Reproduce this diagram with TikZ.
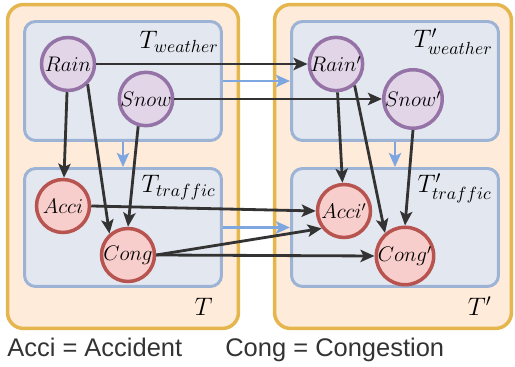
\documentclass[tikz,border=0pt]{standalone}
\usepackage{fontspec}
\newfontfamily\legendfont{Liberation Sans}
\usetikzlibrary{arrows.meta}
\definecolor{sliceline}{HTML}{E5B64E}
\definecolor{slicefill}{HTML}{FFEBDA}
\definecolor{groupline}{HTML}{9CB3D5}
\definecolor{groupfill}{HTML}{E3E8F0}
\definecolor{wline}{HTML}{9673A6}
\definecolor{wfill}{HTML}{E1D5E7}
\definecolor{tline}{HTML}{B85450}
\definecolor{tfill}{HTML}{F8CECC}
\definecolor{arrowgray}{HTML}{333333}
\definecolor{flowblue}{HTML}{7EA6E0}
\begin{document}
\begin{tikzpicture}[x=0.02cm,y=-0.02cm,
    slice/.style={rectangle,draw=sliceline,fill=slicefill,line width=2pt,rounded corners=0.32cm,inner sep=0pt},
    group/.style={rectangle,draw=groupline,fill=groupfill,line width=1.7pt,rounded corners=0.22cm,inner sep=0pt},
    weather/.style={circle,draw=wline,fill=wfill,line width=2pt,minimum size=1.06cm,inner sep=0pt,font=\fontsize{12}{14}\selectfont},
    traffic/.style={weather,draw=tline,fill=tfill},
    lbl/.style={inner sep=0pt,font=\fontsize{14}{16}\selectfont},
    legend/.style={inner sep=0pt,text=arrowgray,font=\legendfont\fontsize{14.5}{17}\selectfont},
    dep/.style={draw=arrowgray,line width=1.6pt,-{Stealth[length=8pt,width=7pt,inset=1.8pt]}},
    flow/.style={draw=flowblue,line width=1.6pt,-{Stealth[length=8pt,width=7pt,inset=1.8pt]}}]
    \useasboundingbox (0,0) rectangle (515,367);
    %% Time slices
    \node[slice,minimum width=4.62cm,minimum height=6.48cm] (sliceT) at (123,166.5) {};
    \node[slice,minimum width=4.74cm,minimum height=6.48cm] (sliceTN) at (393,166.5) {};
    %% Groups
    \node[group,minimum width=3.94cm,minimum height=2.38cm] (wthr) at (123,81) {};
    \node[group,minimum width=3.94cm,minimum height=2.36cm] (trfc) at (123,227.5) {};
    \node[group,minimum width=4.14cm,minimum height=2.38cm] (wthrN) at (395,81) {};
    \node[group,minimum width=4.14cm,minimum height=2.36cm] (trfcN) at (395,227.5) {};
    %% Labels
    \node[lbl,anchor=base east] (lwthr) at (219,49) {$T_{weather}$};
    \node[lbl,anchor=base east] (ltrfc) at (216,193) {$T_{traffic}$};
    \node[lbl,anchor=base east] (lwthrN) at (493,48) {$T'_{weather}$};
    \node[lbl,anchor=base east] (ltrfcN) at (492,193) {$T'_{traffic}$};
    \node[lbl,anchor=base east] (lsliceT) at (213,316) {$T$};
    \node[lbl,anchor=base east] (lsliceTN) at (492,316) {$T'$};
    %% Blue flows
    \draw[flow] (wthr.south) -- (trfc.north);
    \draw[flow] (wthrN.south) -- (trfcN.north);
    \draw[flow] (wthr.east) -- (wthrN.west);
    \draw[flow] (trfc.east) -- (trfcN.west);
    %% Variables
    \node[weather] (rain) at (68,64) {$Rain$};
    \node[weather] (snow) at (146,99) {$Snow$};
    \node[traffic] (acci) at (63,206) {$Acci$};
    \node[traffic] (cong) at (128,255) {$Cong$};
    \node[weather] (rainN) at (336,64) {$Rain'$};
    \node[weather] (snowN) at (413,99) {$Snow'$};
    \node[traffic] (acciN) at (344,211) {$Acci'$};
    \node[traffic] (congN) at (405,256) {$Cong'$};
    %% Dependencies
    \draw[dep] (rain) -- (acci);
    \draw[dep] (rain.-46) -- (cong.131);
    \draw[dep] (snow.-106) -- (cong.north);
    \draw[dep] (rain) -- (rainN);
    \draw[dep] (snow) -- (snowN);
    \draw[dep] (acci.east) -- (acciN.west);
    \draw[dep] (cong.east) -- (acciN.218);
    \draw[dep] (cong.east) -- (congN.west);
    \draw[dep] (rainN) -- (acciN);
    \draw[dep] (rainN.-49) -- (congN.131);
    \draw[dep] (snowN.south) -- (congN.north);
    %% Legend
    \node[legend,anchor=base west] (accikey) at (7,357) {Acci = Accident};
    \node[legend,anchor=base west] (congkey) at (225,357) {Cong = Congestion};
\end{tikzpicture}
\end{document}
